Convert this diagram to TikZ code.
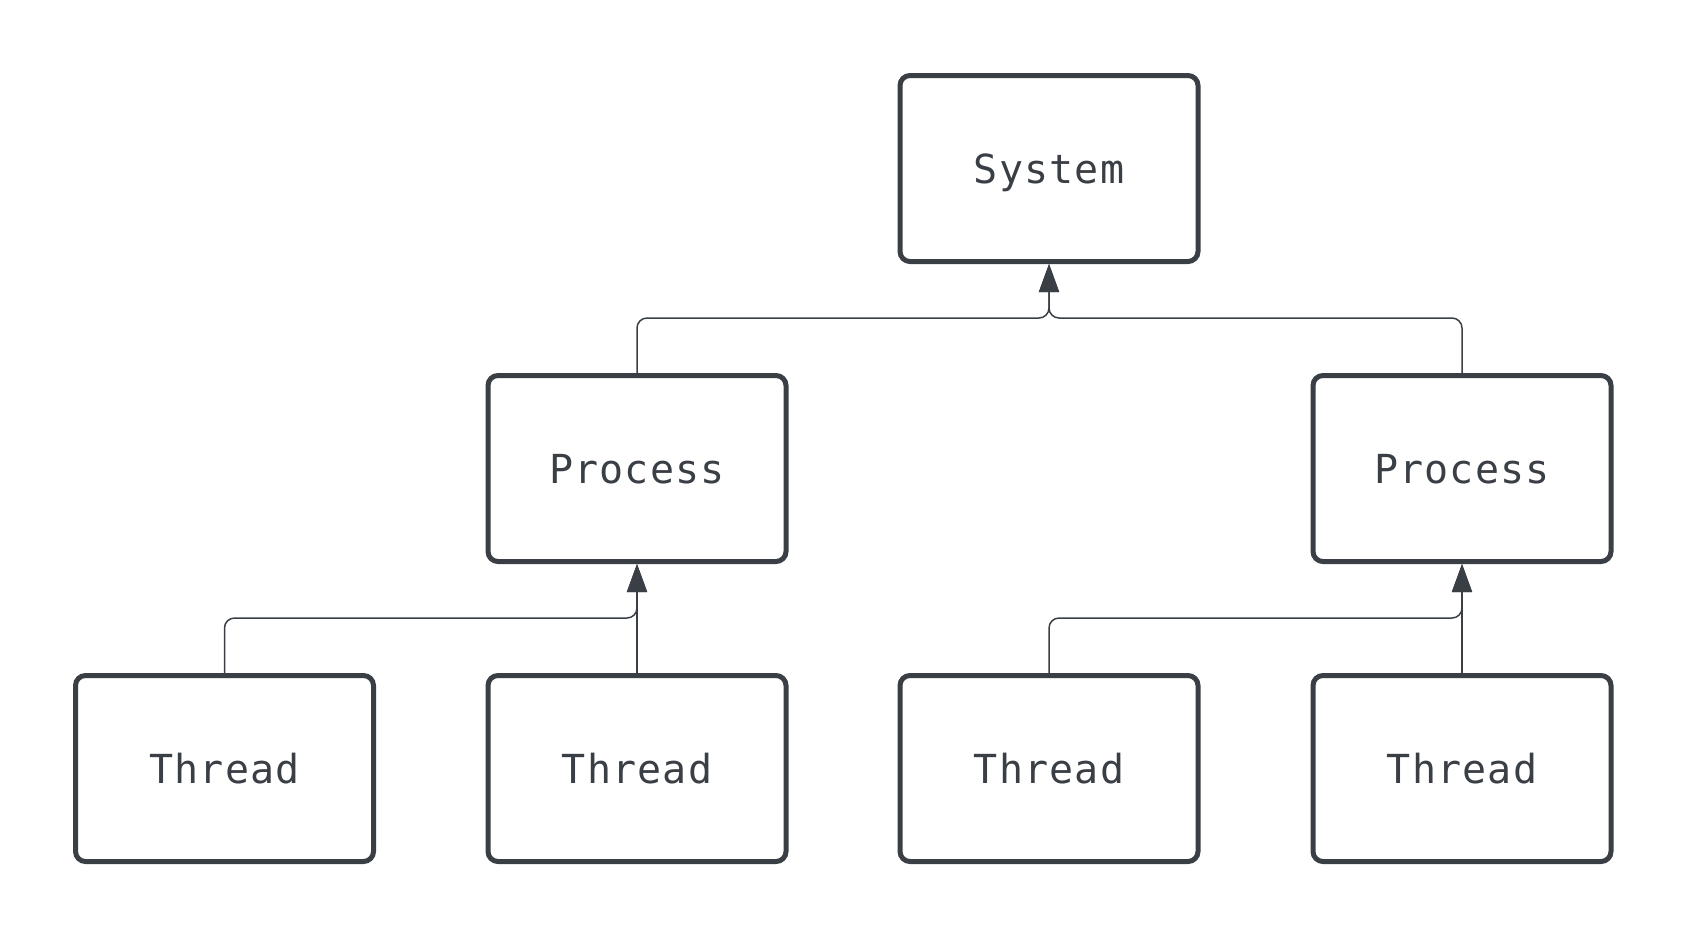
\documentclass[tikz,border=0pt]{standalone}
\usepackage{fontspec}
\newfontfamily\boxfont[LetterSpace=3]{DejaVu Sans Mono}
\usetikzlibrary{arrows.meta}
\definecolor{ink}{HTML}{3A3F46}
\tikzset{
  box/.style={draw=ink, line width=5pt, rounded corners=10pt, fill=white,
    minimum width=298pt, minimum height=186pt, inner sep=0pt,
    text=ink, font=\boxfont\fontsize{40}{48}\selectfont,
    text height=29pt, text depth=0pt},
  link/.style={draw=ink, line width=1.5pt, rounded corners=10pt,
    -{Triangle[width=20pt,length=28pt]}}
}
\begin{document}
\begin{tikzpicture}[x=1pt,y=-1pt]
\useasboundingbox (0,0) rectangle (1688,938);
\node[box] (sys) at (1049,168.5) {System};
\node[box] (p1) at (637,468.5) {Process};
\node[box] (p2) at (1462,468.5) {Process};
\node[box] (t1) at (224.5,768.5) {Thread};
\node[box] (t2) at (637,768.5) {Thread};
\node[box] (t3) at (1049,768.5) {Thread};
\node[box] (t4) at (1462,768.5) {Thread};
\coordinate (j0) at (1049,318);
\coordinate (j1) at (637,618);
\coordinate (j2) at (1462,618);
\draw[link] (p1.north) |- (j0) -- (sys.south);
\draw[link] (p2.north) |- (j0) -- (sys.south);
\draw[link] (t1.north) |- (j1) -- (p1.south);
\draw[link] (t2.north) -- (p1.south);
\draw[link] (t3.north) |- (j2) -- (p2.south);
\draw[link] (t4.north) -- (p2.south);
\end{tikzpicture}
\end{document}
